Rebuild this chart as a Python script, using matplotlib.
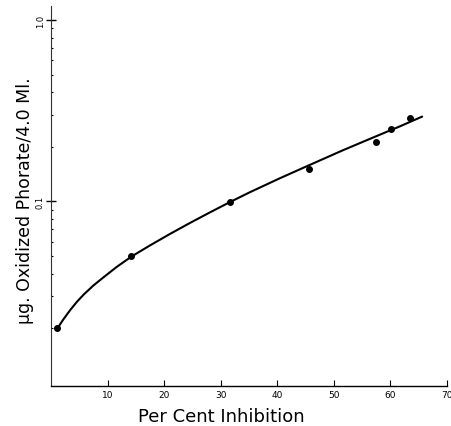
import matplotlib
matplotlib.use("Agg")
import matplotlib.pyplot as plt
from matplotlib.ticker import FixedLocator, NullFormatter

# measured points
inhibition = [1.1, 14.2, 31.6, 45.6, 57.5, 60.1, 63.5]
phorate = [0.0199, 0.050, 0.099, 0.151, 0.213, 0.250, 0.287]

# smooth curve
curve_x = [1.11, 1.6, 2.2, 3.4, 4.6, 5.8, 7.5, 9.3, 11.6, 14.24, 17.5, 21.0, 24.5, 28.0,
           31.6, 35.1, 40.4, 45.5, 51.5, 57.5, 61.5, 65.6]
curve_y = [0.0198, 0.0210, 0.0224, 0.0252, 0.0280, 0.0307, 0.0344, 0.0382, 0.0435, 0.0497,
           0.0572, 0.0661, 0.0759, 0.0867, 0.0991, 0.1122, 0.1340, 0.1578, 0.1910, 0.2291,
           0.2582, 0.2938]

x_ticks = [10, 20, 30, 40, 50, 60, 70]
y_ticks = [0.1, 1.0]
y_ticklabels = ["0.1", "1.0"]
y_minor = [0.02, 0.03, 0.04, 0.05, 0.06, 0.07, 0.08, 0.09,
           0.2, 0.3, 0.4, 0.5, 0.6, 0.7, 0.8, 0.9]

fig = plt.figure(figsize=(4.52, 4.27), dpi=100)
ax = fig.add_axes([0.113, 0.094, 0.876, 0.890])

ax.plot(curve_x, curve_y, color="black", lw=1.5, solid_capstyle="round", solid_joinstyle="round")
ax.plot(inhibition, phorate, "o", color="black", ms=4)

ax.set_yscale("log")
ax.set_xlim(0, 70)
ax.set_ylim(0.0096, 1.2)

for s in ["top", "right"]:
    ax.spines[s].set_visible(False)
ax.spines["left"].set_linewidth(0.8)
ax.spines["left"].set_color("#333333")
ax.spines["bottom"].set_linewidth(1.0)

ax.set_xticks(x_ticks)
ax.set_xticklabels([str(t) for t in x_ticks], fontsize=6.5)
ax.tick_params(axis="x", direction="in", length=4, width=0.8, pad=3)

ax.yaxis.set_major_locator(FixedLocator(y_ticks))
ax.set_yticklabels(y_ticklabels, fontsize=6, rotation=90, va="center")
ax.tick_params(axis="y", which="major", direction="inout", length=7, width=1.0, pad=1)
ax.yaxis.set_minor_locator(FixedLocator(y_minor))
ax.yaxis.set_minor_formatter(NullFormatter())
ax.tick_params(axis="y", which="minor", direction="in", length=1.5, width=0.8)

ax.set_xlabel("Per Cent Inhibition", fontsize=13, va="baseline")
ax.xaxis.set_label_coords(0.43, -0.092)
ax.set_ylabel("\u03bcg. Oxidized Phorate/4.0 Ml.", fontsize=12.5)
ax.yaxis.set_label_coords(-0.043, 0.491)

fig.savefig("out.png", dpi=100)
